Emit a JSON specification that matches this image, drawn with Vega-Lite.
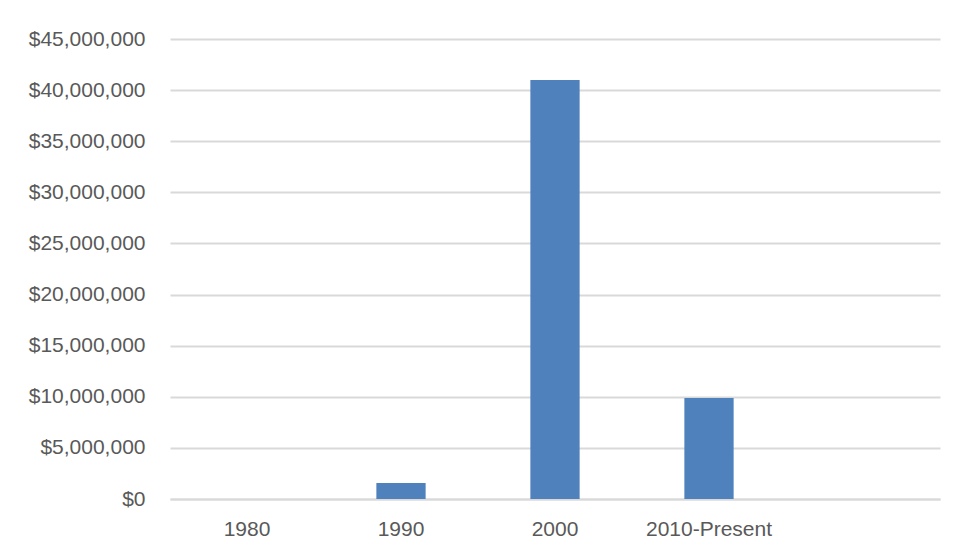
{
  "$schema": "https://vega.github.io/schema/vega-lite/v6.json",
  "width": 770,
  "height": 460,
  "autosize": {"type": "none"},
  "padding": {"left": 170, "top": 39, "right": 16, "bottom": 60},
  "background": "white",
  "config": {"view": {"stroke": null}, "font": "Liberation Sans"},
  "data": {
    "values": [
      {"decade": "1980", "amount": 0},
      {"decade": "1990", "amount": 1570000},
      {"decade": "2000", "amount": 41000000},
      {"decade": "2010-Present", "amount": 9880000}
    ]
  },
  "mark": {"type": "bar", "color": "#4f81bd"},
  "encoding": {
    "x": {
      "field": "decade",
      "type": "nominal",
      "sort": null,
      "scale": {"domain": ["1980", "1990", "2000", "2010-Present", " "], "paddingInner": 0.68, "paddingOuter": 0.34},
      "axis": {
        "title": null,
        "labelAngle": 0,
        "labelFontSize": 21,
        "labelColor": "#595959",
        "labelPadding": 19,
        "ticks": false,
        "domainColor": "#d9d9d9",
        "domainWidth": 2,
        "grid": false
      }
    },
    "y": {
      "field": "amount",
      "type": "quantitative",
      "scale": {"domain": [0, 45000000], "nice": false},
      "axis": {
        "title": null,
        "values": [0, 5000000, 10000000, 15000000, 20000000, 25000000, 30000000, 35000000, 40000000, 45000000],
        "format": "$,.0f",
        "labelFontSize": 21,
        "labelColor": "#595959",
        "labelPadding": 25,
        "ticks": false,
        "domain": false,
        "gridColor": "#d9d9d9",
        "gridWidth": 2
      }
    }
  }
}
